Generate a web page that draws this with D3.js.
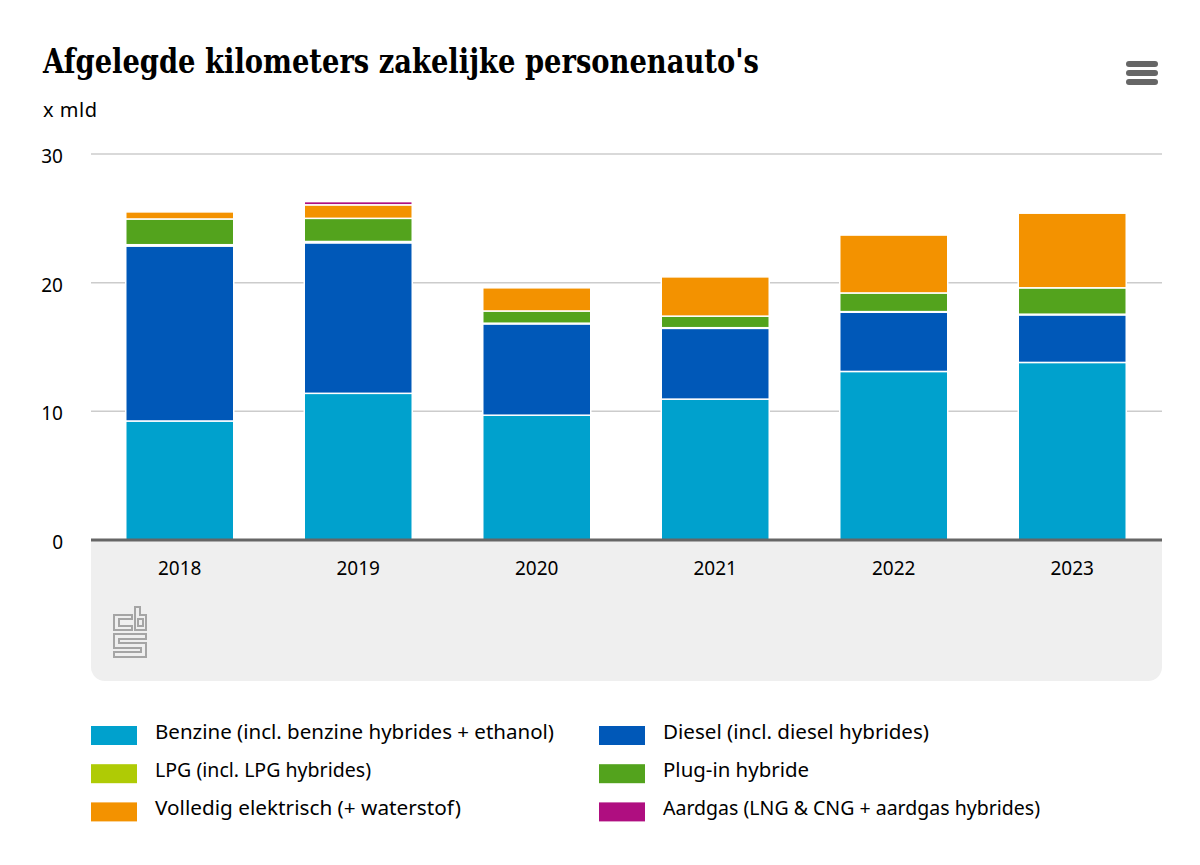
<!DOCTYPE html>
<html>
<head>
<meta charset="utf-8">
<script src="https://cdn.jsdelivr.net/npm/d3@7"></script>
<style>
  html, body { margin: 0; padding: 0; background: #fff; }
  svg { display: block; }
  text { font-family: "Noto Sans", sans-serif; fill: #000; }
</style>
</head>
<body>
<div id="chart"></div>
<script>
const years = ['2018', '2019', '2020', '2021', '2022', '2023'];
const benzine = [9.25, 11.4, 9.7, 10.95, 13.1, 13.8];
const diesel = [13.6, 11.7, 7.1, 5.5, 4.6, 3.7];
const lpg = [0.1, 0.1, 0.05, 0.05, 0.05, 0.05];
const plugin = [2.0, 1.8, 0.95, 0.9, 1.45, 2.05];
const elektrisch = [0.55, 1.05, 1.8, 3.05, 4.5, 5.8];
const aardgas = [0, 0.25, 0, 0, 0, 0];
const yTicks = [0, 10, 20, 30];

const seriesNames = [
  'Benzine (incl. benzine hybrides + ethanol)',
  'Diesel (incl. diesel hybrides)',
  'LPG (incl. LPG hybrides)',
  'Plug-in hybride',
  'Volledig elektrisch (+ waterstof)',
  'Aardgas (LNG & CNG + aardgas hybrides)'
];
const seriesColors = ['#00a1cd', '#0058b8', '#afcb05', '#53a31d', '#f39200', '#af0e80'];
const seriesValues = [benzine, diesel, lpg, plugin, elektrisch, aardgas];
const legendTextWidths = [399, 266, 216, 146, 306, 377];

const width = 1200, height = 865;
const svg = d3.select('#chart').append('svg').attr('width', width).attr('height', height);

const x = d3.scaleBand().domain(years).range([90.5, 1161.5]).paddingInner(0.395).paddingOuter(0.1975);
const y = d3.scaleLinear().domain([0, 30]).range([540, 154]);

// grey footer panel below the axis
svg.append('path')
  .attr('d', 'M91,540H1162V667a14,14 0 0 1 -14,14H105a14,14 0 0 1 -14,-14Z')
  .attr('fill', '#efefef');

svg.append('text').attr('x', 43).attr('y', 73)
  .attr('font-size', 33.5).attr('font-weight', 700)
  .style('font-family', '"DejaVu Serif", serif')
  .attr('textLength', 716).attr('lengthAdjust', 'spacingAndGlyphs')
  .text("Afgelegde kilometers zakelijke personenauto's");

svg.append('text').attr('x', 43).attr('y', 117).attr('font-size', 20)
  .attr('textLength', 54).text('x mld');

// menu icon
svg.append('g').selectAll('rect').data([61, 70, 79]).enter().append('rect')
  .attr('x', 1126).attr('y', d => d)
  .attr('width', 32).attr('height', 6).attr('rx', 3).attr('fill', '#666');

// gridlines
svg.append('g').selectAll('line').data(yTicks.filter(d => d > 0)).enter().append('line')
  .attr('x1', 91).attr('x2', 1162)
  .attr('y1', d => y(d)).attr('y2', d => y(d))
  .attr('stroke', '#ccc').attr('stroke-width', 1.5);

svg.append('g').selectAll('text').data(yTicks).enter().append('text')
  .attr('x', 63).attr('y', d => y(d) + 9).attr('text-anchor', 'end')
  .attr('font-size', 19).text(d => d);

// stacked bars
const rows = years.map((yr, i) => {
  const row = { year: yr };
  seriesNames.forEach((n, s) => { row[n] = seriesValues[s][i]; });
  return row;
});
const stacked = d3.stack().keys(seriesNames)(rows);

svg.append('g').selectAll('g').data(stacked).enter().append('g')
  .attr('fill', (d, i) => seriesColors[i])
  .selectAll('rect').data(d => d.filter(v => v[1] > v[0])).enter().append('rect')
  .attr('x', d => x(d.data.year))
  .attr('width', x.bandwidth())
  .attr('y', d => y(d[1]))
  .attr('height', d => y(d[0]) - y(d[1]))
  .attr('stroke', '#fff').attr('stroke-width', 1.5);

svg.append('line').attr('x1', 91).attr('x2', 1162).attr('y1', 540).attr('y2', 540)
  .attr('stroke', '#666').attr('stroke-width', 3);

svg.append('g').selectAll('text').data(years).enter().append('text')
  .attr('x', d => x(d) + x.bandwidth() / 2).attr('y', 575).attr('text-anchor', 'middle')
  .attr('font-size', 19).text(d => d);

// cbs logo
svg.append('g').attr('fill', 'none').attr('stroke', '#a5a5a5').attr('stroke-width', 2)
  .selectAll('path').data([
    'M132,615H114V630H132V626H119V619H132Z',
    'M135,607H140V615H146V630H135Z',
    'M138,619H143V626H138Z',
    'M114,634H146V639H119V643H146V657H114V652H141V648H114Z'
  ]).enter().append('path').attr('d', d => d);

// legend
const legend = svg.append('g').selectAll('g').data(seriesNames).enter().append('g')
  .attr('transform', (d, i) => `translate(${i % 2 ? 599 : 91},${726 + Math.floor(i / 2) * 38.2})`);
legend.append('rect').attr('width', 46).attr('height', 19).attr('fill', (d, i) => seriesColors[i]);
legend.append('text').attr('x', 64).attr('y', 13).attr('font-size', 20)
  .attr('textLength', (d, i) => legendTextWidths[i]).attr('lengthAdjust', 'spacingAndGlyphs')
  .text(d => d);
</script>
</body>
</html>
